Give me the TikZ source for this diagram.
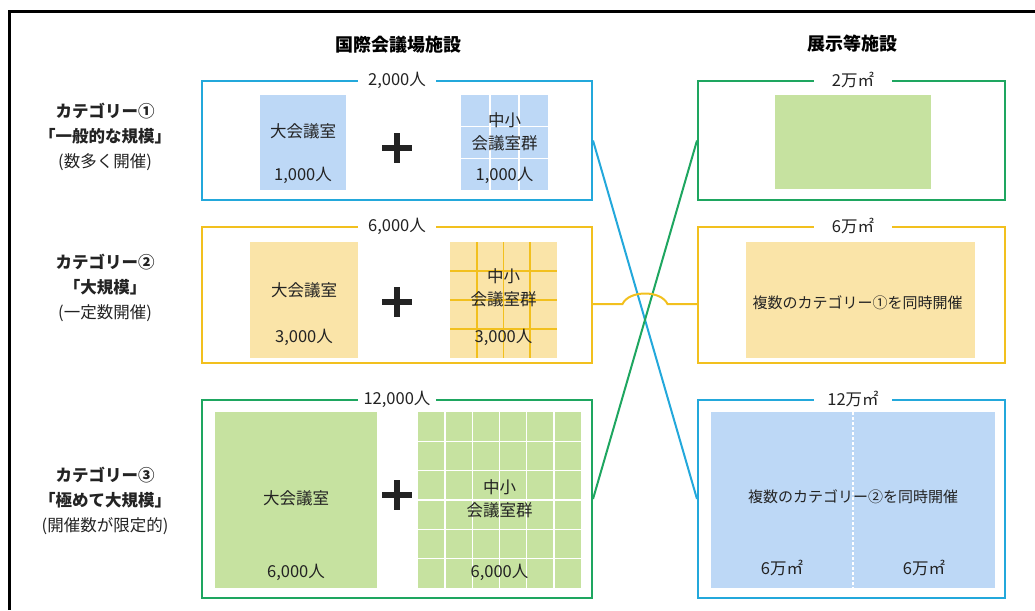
\documentclass[tikz,border=0pt]{standalone}
\usepackage{fontspec}
\setmainfont{Noto Sans CJK JP}
\usetikzlibrary{calc}
\definecolor{kcyan}{RGB}{35,168,219}
\definecolor{kyellow}{RGB}{242,192,30}
\definecolor{kgreen}{RGB}{30,166,96}
\definecolor{fblue}{RGB}{189,216,246}
\definecolor{fyellow}{RGB}{250,228,168}
\definecolor{fgreen}{RGB}{198,226,160}
\definecolor{ink}{RGB}{35,35,35}
\tikzstyle{frame}=[draw, line width=2pt, inner sep=0pt]
\tikzstyle{room}=[inner sep=0pt, outer sep=0pt]
\tikzstyle{txt}=[inner sep=0pt, text=ink, font=\fontsize{16.5}{23}\selectfont, align=center]
\tikzstyle{sizecap}=[fill=white, inner sep=0pt, minimum width=78pt, minimum height=14pt, text=ink, font=\fontsize{16.5}{18}\selectfont]
\tikzstyle{catlabel}=[inner sep=0pt, text=ink, align=center, font=\fontsize{16.5}{25}\selectfont]
\tikzstyle{headtitle}=[inner sep=0pt, font=\fontsize{18}{20}\selectfont\bfseries]
\tikzstyle{conn}=[line width=2pt]
\tikzstyle{plussign}=[line width=6.5pt, ink]
\newcommand{\roomgrid}[3]{
\foreach \i [evaluate=\i as \f using (\i-1)/#2] in {2,...,#2} {
	\draw[#3, line width=1.6pt] ($(#1.north west)!\f!(#1.north east)$) -- ($(#1.south west)!\f!(#1.south east)$);
	\draw[#3, line width=1.6pt] ($(#1.north west)!\f!(#1.south west)$) -- ($(#1.north east)!\f!(#1.south east)$);
}
}
\newcommand{\plusat}[1]{
\draw[plussign] ($(#1)+(-15,0)$) -- ++(30,0) ($(#1)+(0,-15)$) -- ++(0,30);
}

\begin{document}
\begin{tikzpicture}[x=1pt, y=-1pt]
\useasboundingbox (0,0) rectangle (1035,610);
\draw[line width=3pt] (9,610) -- (9,12) -- (1035,12);
\node[headtitle] (tkaigi) at (398,45) {国際会議場施設};
\node[headtitle] (ttenji) at (852,44) {展示等施設};
\node[catlabel] (catA) at (105,137) {\textbf{カテゴリー①}\\\textbf{「一般的な規模」}\\(数多く開催)};
\node[catlabel] (catB) at (105,288) {\textbf{カテゴリー②}\\\textbf{「大規模」}\\(一定数開催)};
\node[catlabel] (catC) at (105,501) {\textbf{カテゴリー③}\\\textbf{「極めて大規模」}\\(開催数が限定的)};
\node[room, fill=fblue, minimum width=86pt, minimum height=95pt] (bigA) at (303,142.5) {};
\node[room, fill=fblue, minimum width=87pt, minimum height=95pt] (smallA) at (504.5,142.5) {};
\node[room, fill=fyellow, minimum width=108pt, minimum height=116pt] (bigB) at (304,300) {};
\node[room, fill=fyellow, minimum width=107pt, minimum height=116pt] (smallB) at (503.5,300) {};
\node[room, fill=fgreen, minimum width=162pt, minimum height=176pt] (bigC) at (296,500) {};
\node[room, fill=fgreen, minimum width=163pt, minimum height=176pt] (smallC) at (499.5,500) {};
\roomgrid{smallA}{3}{white}
\roomgrid{smallB}{4}{kyellow}
\roomgrid{smallC}{6}{white}
\node[room, fill=fgreen, minimum width=156pt, minimum height=94pt] (hallA) at (853,142) {};
\node[room, fill=fyellow, minimum width=229pt, minimum height=116pt] (hallB) at (860.5,300) {};
\node[room, fill=fblue, minimum width=284pt, minimum height=176pt] (hallC) at (853,500) {};
\draw[white, line width=1.3pt, dash pattern=on 3pt off 2pt] (hallC.north) -- (hallC.south);
\node[frame, draw=kcyan, minimum width=390pt, minimum height=119pt] (kA) at (397,140.5) {};
\node[frame, draw=kyellow, minimum width=390pt, minimum height=136pt] (kB) at (397,295) {};
\node[frame, draw=kgreen, minimum width=390pt, minimum height=198pt] (kC) at (397,499) {};
\node[frame, draw=kgreen, minimum width=307pt, minimum height=119pt] (tA) at (851.5,140.5) {};
\node[frame, draw=kyellow, minimum width=307pt, minimum height=136pt] (tB) at (851.5,295) {};
\node[frame, draw=kcyan, minimum width=307pt, minimum height=198pt] (tC) at (851.5,499) {};
\node[sizecap] (capkA) at (kA.north) {2,000人};
\node[sizecap] (capkB) at (kB.north) {6,000人};
\node[sizecap] (capkC) at (kC.north) {12,000人};
\node[sizecap] (captA) at ([xshift=1.5pt]tA.north) {2万㎡};
\node[sizecap] (captB) at ([xshift=1.5pt]tB.north) {6万㎡};
\node[sizecap] (captC) at ([xshift=1.5pt]tC.north) {12万㎡};
\node[txt] (nbigA) at ([yshift=11pt]bigA.center) {大会議室};
\node[txt] (pbigA) at ([yshift=15pt]bigA.south) {1,000人};
\node[txt] (nsmallA) at ([yshift=11pt]smallA.center) {中小\\会議室群};
\node[txt] (psmallA) at ([yshift=15pt]smallA.south) {1,000人};
\node[txt] (nbigB) at ([yshift=10pt]bigB.center) {大会議室};
\node[txt] (pbigB) at ([yshift=21pt]bigB.south) {3,000人};
\node[txt] (nsmallB) at ([yshift=12pt]smallB.center) {中小\\会議室群};
\node[txt] (psmallB) at ([yshift=21pt]smallB.south) {3,000人};
\node[txt] (nbigC) at ([yshift=2pt]bigC.center) {大会議室};
\node[txt] (pbigC) at ([yshift=16pt]bigC.south) {6,000人};
\node[txt] (nsmallC) at ([yshift=1.5pt]smallC.center) {中小\\会議室群};
\node[txt] (psmallC) at ([yshift=16pt]smallC.south) {6,000人};
\node[txt, font=\fontsize{15}{18}\selectfont] (nhallB) at ([xshift=-3pt,yshift=-3pt]hallB.center) {複数のカテゴリー①を同時開催};
\node[txt, font=\fontsize{15}{18}\selectfont] (nhallC) at ([yshift=3pt]hallC.center) {複数のカテゴリー②を同時開催};
\node[txt] (phallCl) at ($(hallC.south west)!.5!(hallC.south)+(0,-20)$) {6万㎡};
\node[txt] (phallCr) at ($(hallC.south)!.5!(hallC.south east)+(0,-20)$) {6万㎡};
\coordinate (pA) at (397,148);
\coordinate (pB) at (397,302);
\coordinate (pC) at (397,495);
\plusat{pA}
\plusat{pB}
\plusat{pC}
\coordinate (jB) at ($([yshift=-9pt]kB.east)!.5!([yshift=-9pt]tB.west)$);
\draw[kcyan, conn] (kA.east) -- (tC.west);
\draw[kgreen, conn] (kC.east) -- (tA.west);
\draw[kyellow, conn] ([yshift=-9pt]kB.east) -- ($(jB)+(-22.5,0)$) .. controls ($(jB)+(-16,-14)$) and ($(jB)+(16,-14)$) .. ($(jB)+(22.5,0)$) -- ([yshift=-9pt]tB.west);
\end{tikzpicture}
\end{document}
